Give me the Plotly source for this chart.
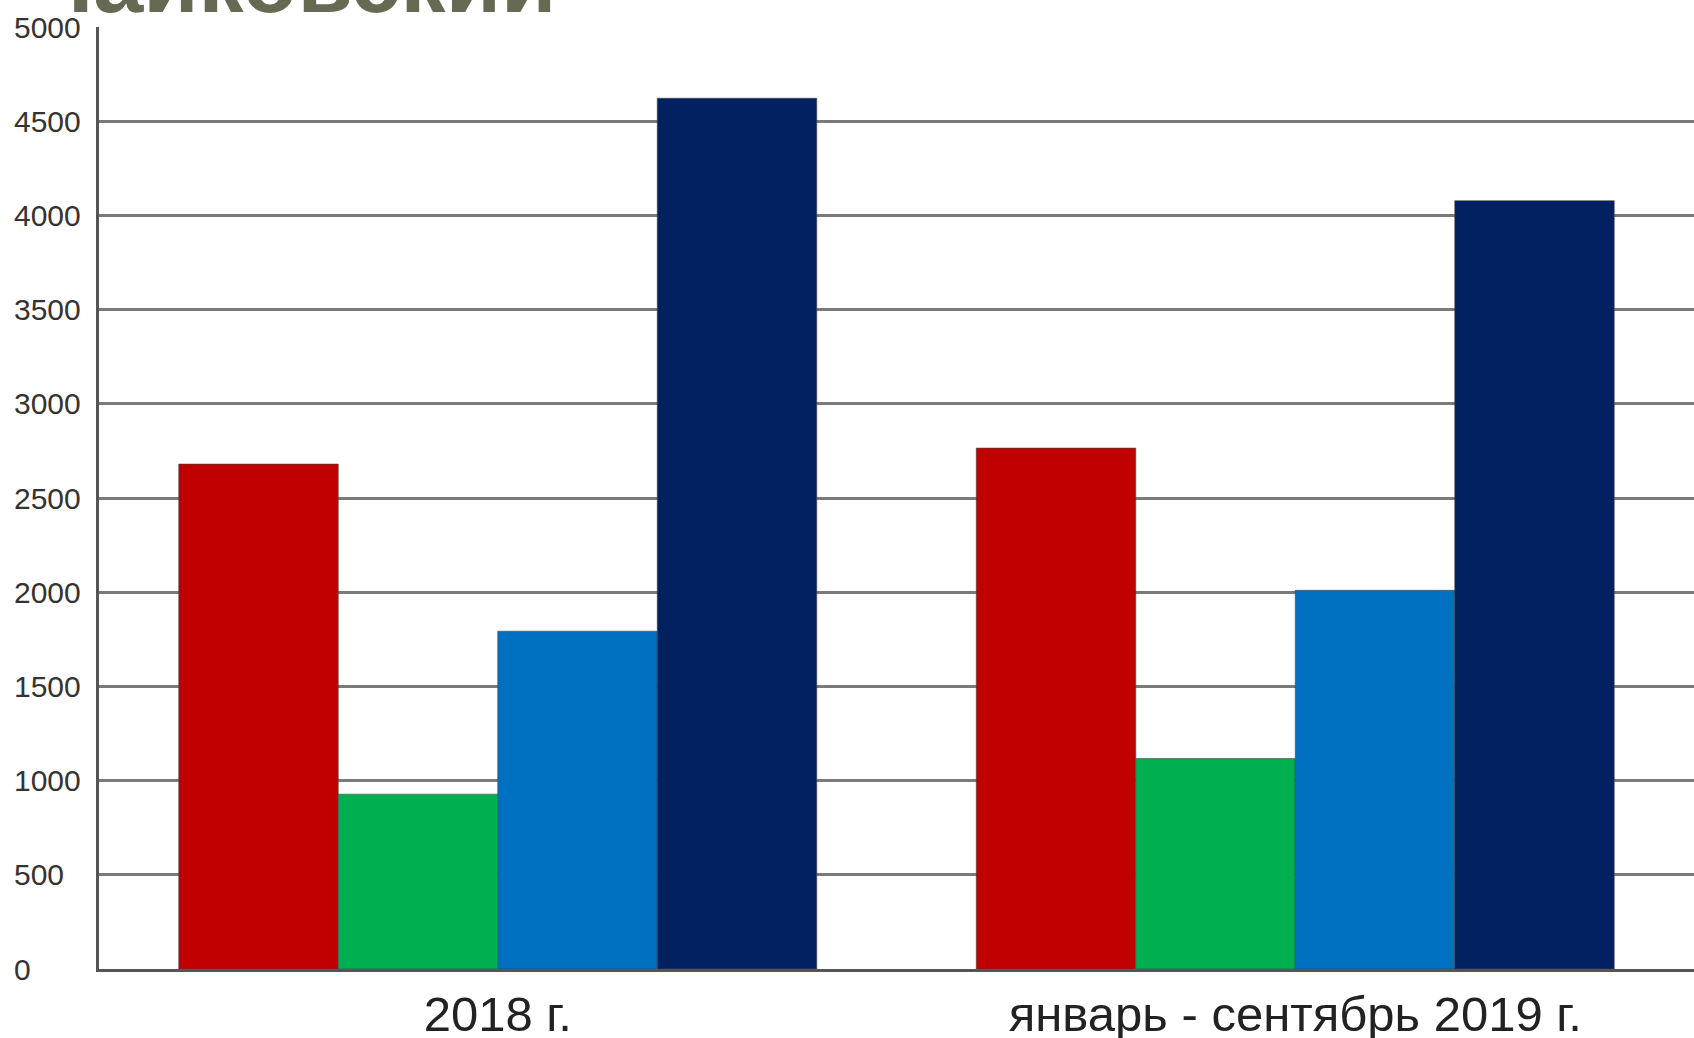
import plotly.graph_objects as go

categories = ["2018 г.", "январь - сентябрь 2019 г."]
series_red = [2680, 2765]
series_green = [928, 1117]
series_blue = [1793, 2010]
series_navy = [4622, 4078]
y_ticks = [0, 500, 1000, 1500, 2000, 2500, 3000, 3500, 4000, 4500, 5000]
title_text = "Чайковский"

colors = ["#c00000", "#00b050", "#0070c0", "#002060"]
series = [series_red, series_green, series_blue, series_navy]

W, H = 1694, 1038
ML, MT, MB, MR = 99, 27, 69, 0
PW = W - ML - MR

fig = go.Figure()
for vals, col in zip(series, colors):
    fig.add_trace(go.Bar(
        x=categories, y=vals,
        marker=dict(color=col, line=dict(color="rgba(70,70,70,0.6)", width=1)),
        showlegend=False, hoverinfo="skip",
    ))

for v in y_ticks:
    fig.add_annotation(
        x=(12 - ML) / PW, xref="paper", xanchor="left",
        y=v, yref="y", yanchor="middle",
        text=str(v), showarrow=False,
        font=dict(family="Liberation Sans, Arial", size=30, color="#333333"),
    )

fig.add_annotation(
    x=(28 - ML) / PW, xref="paper", xanchor="left",
    y=1.0, yref="paper", yanchor="bottom", yshift=-6,
    text="<b>" + title_text + "</b>", showarrow=False,
    font=dict(family="Liberation Sans, Arial", size=90, color="#666a53"),
)

fig.update_layout(
    width=W, height=H,
    margin=dict(l=ML, r=MR, t=MT, b=MB, autoexpand=False),
    paper_bgcolor="white", plot_bgcolor="white",
    barmode="group", bargap=0.2, bargroupgap=0,
    xaxis=dict(
        range=[-0.5, 1.5], showgrid=False, showline=True,
        linecolor="#555555", linewidth=2.5, ticks="",
        tickfont=dict(family="Liberation Sans, Arial", size=49, color="#222222"),
        automargin=False,
    ),
    yaxis=dict(
        range=[0, 5000], tickvals=y_ticks, showticklabels=False,
        showgrid=True, gridcolor="#7a7a7a", gridwidth=2.5,
        showline=True, linecolor="#555555", linewidth=2.5,
        zeroline=False, ticks="", automargin=False,
    ),
)

fig.write_html(
    "out.html",
    config={"displayModeBar": False},
    post_script="document.body.style.margin='0px';document.body.style.overflow='hidden';",
)
